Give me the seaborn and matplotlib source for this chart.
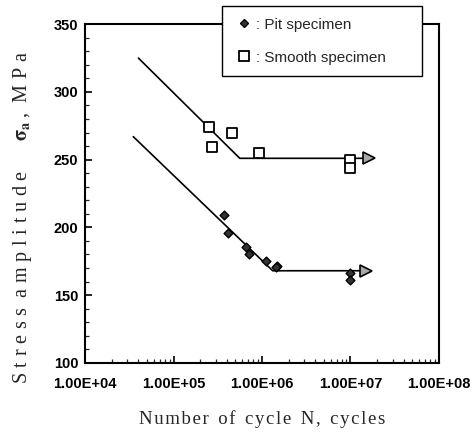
import numpy as np
import pandas as pd
import matplotlib
matplotlib.use('Agg')
import matplotlib.pyplot as plt
from matplotlib.lines import Line2D
from matplotlib.ticker import LogLocator, MultipleLocator, FixedLocator
import seaborn as sns

# Data
pit_N = [3.7e5, 4.1e5, 6.6e5, 7.1e5, 1.1e6, 1.48e6, 1.45e6, 1.0e7, 1.0e7]
pit_S = [209, 196, 185.5, 180.5, 175, 171.5, 171, 166.5, 161.5]
smooth_N = [2.5e5, 4.6e5, 2.7e5, 9.2e5, 1.0e7, 1.0e7]
smooth_S = [274, 269.5, 259, 255, 249.5, 244]

# fitted S-N lines (start, knee, run-out)
pit_fit_N = [3.5e4, 1.32e6, 1.5e7]
pit_fit_S = [267, 168, 168]
smooth_fit_N = [4.0e4, 5.6e5, 1.6e7]
smooth_fit_S = [325, 251, 251]

x_ticks = [1e4, 1e5, 1e6, 1e7, 1e8]
x_tick_labels = ['1.00E+04', '1.00E+05', '1.00E+06', '1.00E+07', '1.00E+08']


def spaced(s, gap):
    # widen letter spacing like the scanned original
    return gap.join(s)


sns.set_theme(style='white')
plt.rcParams['font.family'] = ['Liberation Sans', 'DejaVu Sans']
plt.rcParams['mathtext.fontset'] = 'stix'
serif = ['Liberation Serif', 'DejaVu Serif']

fig = plt.figure(figsize=(4.73, 4.32), dpi=100)
ax = fig.add_axes([0.180, 0.160, 0.748, 0.784])

pit_df = pd.DataFrame({'N': pit_N, 'S': pit_S})
smooth_df = pd.DataFrame({'N': smooth_N, 'S': smooth_S})
pit_fit = pd.DataFrame({'N': pit_fit_N, 'S': pit_fit_S})
smooth_fit = pd.DataFrame({'N': smooth_fit_N, 'S': smooth_fit_S})

# fit lines
sns.lineplot(data=pit_fit, x='N', y='S', color='black', lw=1.2, ax=ax, sort=False)
sns.lineplot(data=smooth_fit, x='N', y='S', color='black', lw=1.2, ax=ax, sort=False)

# run-out arrows
ax.plot(pit_fit_N[-1], pit_fit_S[-1], marker='>', ms=9, mfc='#a8a8a8', mec='black', mew=1.2, ls='none')
ax.plot(smooth_fit_N[-1], smooth_fit_S[-1], marker='>', ms=9, mfc='#a8a8a8', mec='black', mew=1.2, ls='none')

# data points
sns.scatterplot(data=pit_df, x='N', y='S', marker='D', s=20, color='#333333',
                edgecolor='black', linewidth=1.0, ax=ax, zorder=3)
sns.scatterplot(data=smooth_df, x='N', y='S', marker='s', s=45, facecolor='white',
                edgecolor='black', linewidth=1.3, ax=ax, zorder=3)

ax.set_xscale('log')
ax.set_xlim(1e4, 1e8)
ax.set_ylim(100, 350)

ax.xaxis.set_major_locator(FixedLocator(x_ticks))
ax.set_xticklabels(x_tick_labels)
ax.xaxis.set_minor_locator(LogLocator(base=10, subs=np.arange(2, 10)))
ax.yaxis.set_major_locator(MultipleLocator(50))
ax.yaxis.set_minor_locator(MultipleLocator(10))

ax.tick_params(axis='both', which='major', direction='in', length=5, width=1.2,
               labelsize=10.5, colors='black', pad=5)
ax.tick_params(axis='x', which='major', pad=10)
ax.tick_params(axis='both', which='minor', direction='in', length=3, width=0.9)
ax.tick_params(axis='x', which='both', bottom=True)
ax.tick_params(axis='y', which='both', left=True)
for lab in ax.get_xticklabels() + ax.get_yticklabels():
    lab.set_fontweight('bold')

for sp in ax.spines.values():
    sp.set_color('black')
    sp.set_linewidth(1.5)

hair = '\u200a'
thin = '\u2009'
xlab = '  '.join(spaced(w, hair) for w in ['Number', 'of', 'cycle', 'N,', 'cycles'])
ax.set_xlabel(xlab, family=serif, fontsize=13.5, labelpad=14)

ylab = ('  '.join(spaced(w, thin + hair) for w in ['Stress', 'amplitude'])
        + '      ' + r'$\mathbf{\sigma_a}$' + thin + ',  ' + spaced('MPa', thin + hair))
ax.set_ylabel(ylab, family=serif, fontsize=14.5)
ax.yaxis.set_label_coords(-0.145, 0.43)

handles = [
    Line2D([], [], marker='D', ls='none', ms=4.0, mfc='#333333', mec='black', mew=1.0),
    Line2D([], [], marker='s', ls='none', ms=6.5, mfc='white', mec='black', mew=1.3),
]
leg = ax.legend(handles, [': Pit specimen', ': Smooth specimen'],
                loc='upper left', bbox_to_anchor=(0.469, 0.824, 0.423, 0.162),
                bbox_transform=fig.transFigure, mode='expand', borderaxespad=0,
                frameon=True, fancybox=False, framealpha=1, edgecolor='black',
                fontsize=11, handletextpad=0.1, handlelength=1.4,
                borderpad=0.75, labelspacing=1.25)
leg.get_frame().set_linewidth(1.0)
leg.set_zorder(10)

fig.savefig('out.png', dpi=100)
